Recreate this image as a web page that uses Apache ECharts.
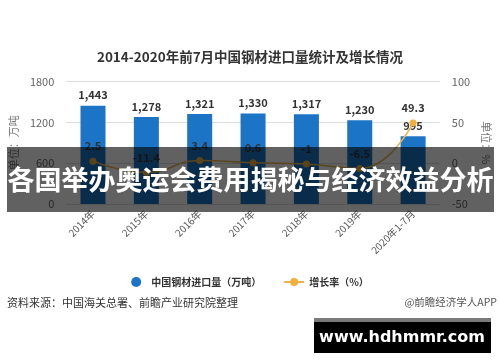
<!DOCTYPE html>
<html>
<head>
<meta charset="utf-8">
<script src="https://cdn.jsdelivr.net/npm/echarts@6/dist/echarts.min.js"></script>
<style>
html,body{margin:0;padding:0;background:#fff;}
#c{width:500px;height:362px;}
</style>
</head>
<body>
<div id="c"></div>
<script>
const categories = ['2014年','2015年','2016年','2017年','2018年','2019年','2020年1-7月'];
const importVolume = [1443, 1278, 1321, 1330, 1317, 1230, 995];
const growthRate = [2.5, -11.4, 3.4, 0.6, -1, -6.5, 49.3];
const leftTicks = {min: 0, max: 1800, interval: 600};
const rightTicks = {min: -50, max: 100, interval: 50};
const titleText = '2014-2020年前7月中国钢材进口量统计及增长情况';
const seriesNames = ['中国钢材进口量（万吨）', '增长率（%）'];
const sourceText = '资料来源：中国海关总署、前瞻产业研究院整理';
const creditText = '@前瞻经济学人APP';
const bannerText = '各国举办奥运会费用揭秘与经济效益分析';
const siteText = 'www.hdhmmr.com';

const FONT = '"Noto Sans CJK SC", "Noto Sans", sans-serif';
const chart = echarts.init(document.getElementById('c'));
chart.setOption({
  backgroundColor: '#fff',
  textStyle: {fontFamily: FONT},
  animation: false,
  title: {
    text: titleText, left: 'center', top: 45,
    textStyle: {fontSize: 13.5, fontWeight: 'bold', color: '#333', fontFamily: FONT}
  },
  grid: {left: 62, right: 57, top: 81.5, bottom: 158},
  legend: {
    bottom: 70, left: 'center', itemGap: 22, itemWidth: 20, itemHeight: 10,
    textStyle: {fontSize: 10, fontWeight: 'bold', color: '#333', fontFamily: FONT},
    data: [{name: seriesNames[0], icon: 'circle'}, {name: seriesNames[1]}]
  },
  xAxis: {
    type: 'category', data: categories,
    axisLine: {show: false}, axisTick: {show: false},
    axisLabel: {rotate: 45, fontSize: 10, color: '#555', margin: 8, fontFamily: FONT}
  },
  yAxis: [{
    type: 'value', min: leftTicks.min, max: leftTicks.max, interval: leftTicks.interval,
    name: '单位：万吨', nameLocation: 'middle', nameRotate: 90, nameGap: 44,
    nameTextStyle: {fontSize: 11, color: '#777', fontFamily: FONT},
    axisLabel: {fontSize: 11, color: '#666', margin: 12, formatter: v => String(v)},
    axisLine: {show: false}, axisTick: {show: false},
    splitLine: {lineStyle: {color: '#ddd'}}
  }, {
    type: 'value', min: rightTicks.min, max: rightTicks.max, interval: rightTicks.interval,
    name: '单位：%', nameLocation: 'middle', nameRotate: -90, nameGap: 40,
    nameTextStyle: {fontSize: 11, color: '#777', fontFamily: FONT},
    axisLabel: {fontSize: 11, color: '#666', margin: 12, formatter: v => String(v)},
    axisLine: {show: false}, axisTick: {show: false},
    splitLine: {show: false}
  }],
  series: [{
    name: seriesNames[0], type: 'bar', data: importVolume, barWidth: 25,
    itemStyle: {color: '#1b74c5'},
    label: {
      show: true, position: 'top', fontSize: 11, fontWeight: 'bold', color: '#333',
      formatter: p => p.value.toLocaleString('en-US')
    }
  }, {
    name: seriesNames[1], type: 'line', yAxisIndex: 1, data: growthRate, smooth: true,
    symbol: 'circle', symbolSize: 7,
    itemStyle: {color: '#f0b03a'}, lineStyle: {color: '#e9b24a', width: 1.5},
    label: {show: true, position: 'top', fontSize: 11, fontWeight: 'bold', color: '#333', distance: 6},
    z: 5
  }],
  graphic: [
    {type: 'text', left: 7, top: 297, z: 10,
     style: {text: sourceText, fontSize: 11, fill: '#333', fontFamily: FONT}},
    {type: 'text', right: 3, top: 297, z: 10,
     style: {text: creditText, fontSize: 10.5, fill: '#555', fontFamily: FONT}},
    {type: 'rect', z: 100, shape: {x: 7, y: 147, width: 487, height: 65},
     style: {fill: 'rgba(0,0,0,0.62)'}},
    {type: 'text', z: 101, x: 250.5, y: 180,
     style: {text: bannerText, fontSize: 27, fontWeight: 'bold', fill: '#fff',
             fontFamily: FONT, align: 'center', verticalAlign: 'middle'}},
    {type: 'rect', z: 100, shape: {x: 314, y: 318, width: 177, height: 35},
     style: {fill: '#000'}},
    {type: 'rect', z: 101, shape: {x: 314, y: 318, width: 177, height: 4},
     style: {fill: '#7a7a7a'}},
    {type: 'text', z: 102, x: 402, y: 338,
     style: {text: siteText, fontSize: 16, fontWeight: 'bold', fill: '#fff',
             fontFamily: '"DejaVu Sans", sans-serif', align: 'center', verticalAlign: 'middle'}}
  ]
});
</script>
</body>
</html>
